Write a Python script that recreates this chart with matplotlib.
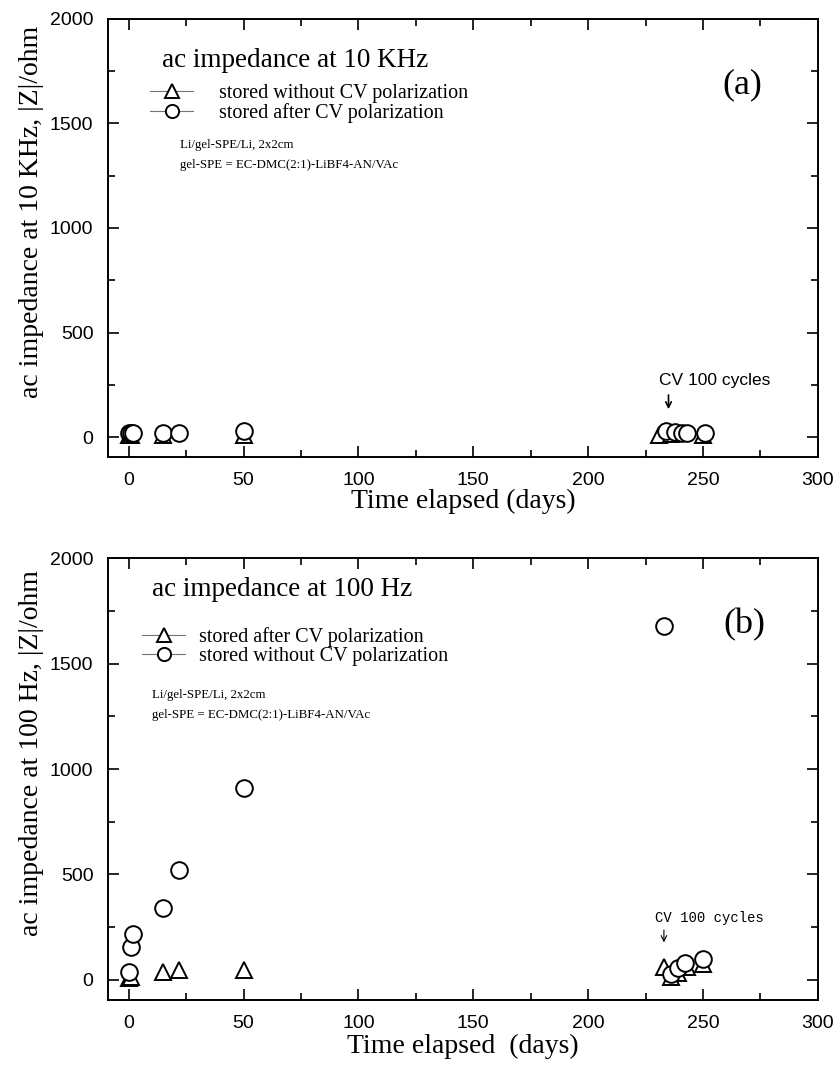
import matplotlib
matplotlib.use("Agg")
import matplotlib.pyplot as plt
from matplotlib.lines import Line2D
from matplotlib.ticker import MultipleLocator

# (a) ac impedance at 10 KHz
a_tri_x = [0, 1, 15, 50, 231, 236, 250]
a_tri_y = [10, 12, 12, 12, 12, 15, 12]
a_cir_x = [0, 1, 2, 15, 22, 50, 234, 238, 241, 243, 251]
a_cir_y = [18, 20, 20, 20, 22, 28, 30, 25, 22, 22, 22]

# (b) ac impedance at 100 Hz
b_tri_x = [0, 1, 15, 22, 50, 233, 236, 239, 243, 250]
b_tri_y = [10, 15, 40, 45, 45, 60, 15, 35, 60, 75]
b_cir_x = [0, 1, 2, 15, 22, 50, 233, 236, 239, 242, 250]
b_cir_y = [40, 155, 220, 340, 520, 910, 1680, 30, 55, 80, 100]

serif = "Liberation Serif"
sans = "Liberation Sans"

fig = plt.figure(figsize=(8.4, 10.66), dpi=100)
ax1 = fig.add_axes([0.1286, 0.5713, 0.845, 0.411])
ax2 = fig.add_axes([0.1286, 0.0619, 0.845, 0.4146])

mk = dict(linestyle="none", markersize=12, markerfacecolor="white",
          markeredgecolor="black", markeredgewidth=1.4)


def style(ax, ylab, xlab, xpad):
    ax.set_xlim(-9, 300)
    ax.set_ylim(-95, 2000)
    ax.xaxis.set_major_locator(MultipleLocator(50))
    ax.xaxis.set_minor_locator(MultipleLocator(25))
    ax.yaxis.set_major_locator(MultipleLocator(500))
    ax.yaxis.set_minor_locator(MultipleLocator(250))
    ax.tick_params(which="both", direction="in", top=True, right=True,
                   labelsize=14, width=1.2, pad=10.5)
    ax.tick_params(which="major", length=8)
    ax.tick_params(which="minor", length=5)
    for lab in ax.get_xticklabels() + ax.get_yticklabels():
        lab.set_fontfamily(sans)
    for s in ax.spines.values():
        s.set_linewidth(1.4)
    ax.set_ylabel(ylab, fontsize=20, fontfamily=serif)
    ax.yaxis.set_label_coords(-0.09, 0.56)
    ax.set_xlabel(xlab, fontsize=20, fontfamily=serif, labelpad=xpad)


def handles():
    kw = dict(color="0.45", lw=0.8, markersize=9.5, markerfacecolor="white",
              markeredgecolor="black", markeredgewidth=1.4)
    return [Line2D([], [], marker="^", **kw), Line2D([], [], marker="o", **kw)]


leg_kw = dict(loc="upper left", frameon=False, borderpad=0, borderaxespad=0,
              handlelength=2.15, labelspacing=0.0,
              prop={"family": serif, "size": 14.5})

# top panel
ax1.plot(a_tri_x, a_tri_y, marker="^", **mk)
ax1.plot(a_cir_x, a_cir_y, marker="o", **mk)
style(ax1, "ac impedance at 10 KHz, |Z|/ohm", "Time elapsed (days)", 0)
ax1.legend(handles(), ["stored without CV polarization", "stored after CV polarization"],
           bbox_to_anchor=(0.059, 0.851), handletextpad=1.3, **leg_kw)
ax1.text(0.076, 0.906, "ac impedance at 10 KHz", transform=ax1.transAxes,
         fontsize=19.5, fontfamily=serif, va="center")
ax1.text(0.101, 0.712, "Li/gel-SPE/Li, 2x2cm", transform=ax1.transAxes,
         fontsize=9.3, fontfamily=serif, va="center")
ax1.text(0.101, 0.667, "gel-SPE = EC-DMC(2:1)-LiBF4-AN/VAc", transform=ax1.transAxes,
         fontsize=9.3, fontfamily=serif, va="center")
ax1.text(0.894, 0.849, "(a)", transform=ax1.transAxes, fontsize=26,
         fontfamily=serif, ha="center", va="center")
ax1.text(255, 272, "CV 100 cycles", fontsize=12.5, fontfamily=sans, ha="center", va="center")
ax1.annotate("", xy=(235, 120), xytext=(235, 215),
             arrowprops=dict(arrowstyle="->", color="black", lw=1.2))

# bottom panel
ax2.plot(b_tri_x, b_tri_y, marker="^", **mk)
ax2.plot(b_cir_x, b_cir_y, marker="o", **mk)
style(ax2, "ac impedance at 100 Hz, |Z|/ohm", "Time elapsed  (days)", 1.5)
ax2.legend(handles(), ["stored after CV polarization", "stored without CV polarization"],
           bbox_to_anchor=(0.048, 0.843), handletextpad=0.7, **leg_kw)
ax2.text(0.062, 0.928, "ac impedance at 100 Hz", transform=ax2.transAxes,
         fontsize=19.5, fontfamily=serif, va="center")
ax2.text(0.062, 0.69, "Li/gel-SPE/Li, 2x2cm", transform=ax2.transAxes,
         fontsize=9.3, fontfamily=serif, va="center")
ax2.text(0.062, 0.645, "gel-SPE = EC-DMC(2:1)-LiBF4-AN/VAc", transform=ax2.transAxes,
         fontsize=9.3, fontfamily=serif, va="center")
ax2.text(0.897, 0.85, "(b)", transform=ax2.transAxes, fontsize=26,
         fontfamily=serif, ha="center", va="center")
ax2.text(253, 296, "CV 100 cycles", fontsize=10, fontfamily="Liberation Mono",
         ha="center", va="center")
ax2.annotate("", xy=(233, 165), xytext=(233, 250),
             arrowprops=dict(arrowstyle="->", color="black", lw=0.8))

fig.savefig("out.png", dpi=100)
